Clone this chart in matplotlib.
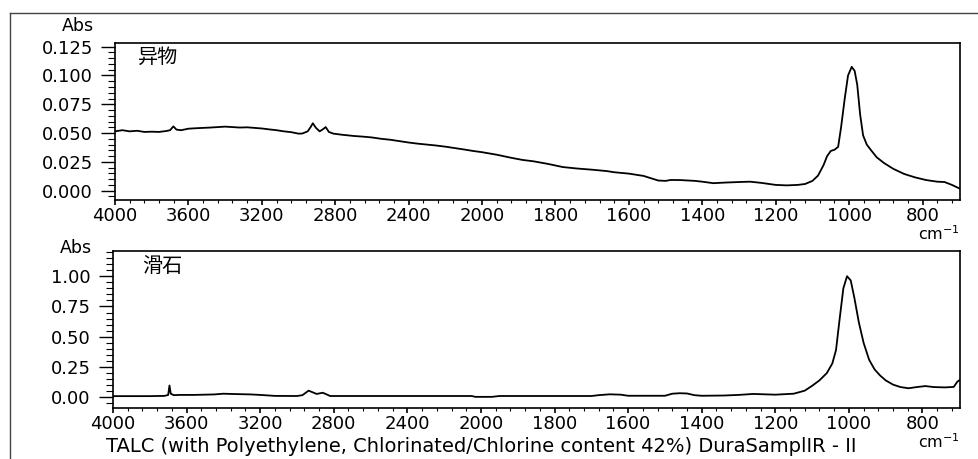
import numpy as np
import matplotlib
matplotlib.use('Agg')
import matplotlib.pyplot as plt
from matplotlib.lines import Line2D
from matplotlib.ticker import FixedLocator, StrMethodFormatter

plt.rcParams['font.family'] = ['DejaVu Sans', 'Noto Sans CJK SC']

# ============================================================
# DATA
# ============================================================

# top panel: 异物 (foreign matter)
wn_top = [4000, 3960, 3920, 3880, 3840, 3800, 3760, 3720, 3700, 3682,
          3665, 3640, 3600, 3560, 3520, 3480, 3440, 3400, 3360, 3320,
          3280, 3240, 3200, 3160, 3120, 3080, 3040, 3000, 2980, 2950,
          2935, 2922, 2905, 2885, 2870, 2852, 2835, 2810, 2760, 2700,
          2640, 2600, 2548, 2500, 2450, 2400, 2350, 2300, 2250, 2200,
          2150, 2100, 2050, 2000, 1960, 1920, 1890, 1860, 1820, 1780,
          1740, 1700, 1660, 1640, 1600, 1560, 1520, 1500, 1486, 1460,
          1420, 1400, 1370, 1340, 1300, 1270, 1240, 1200, 1170, 1140,
          1120, 1100, 1085, 1070, 1060, 1050, 1040, 1030, 1022, 1012,
          1003, 993, 985, 978, 970, 962, 952, 940, 925, 905,
          880, 850, 820, 790, 760, 740, 720, 700]
abs_top = [0.0515, 0.0525, 0.0515, 0.0520, 0.0510, 0.0512, 0.0510, 0.0518, 0.0525, 0.0558,
           0.0530, 0.0525, 0.0538, 0.0542, 0.0545, 0.0548, 0.0552, 0.0556, 0.0552, 0.0548,
           0.0550, 0.0545, 0.0540, 0.0532, 0.0525, 0.0515, 0.0508, 0.0495, 0.0496, 0.0515,
           0.0550, 0.0585, 0.0545, 0.0515, 0.0530, 0.0552, 0.0510, 0.0495, 0.0485, 0.0475,
           0.0468, 0.0462, 0.0450, 0.0442, 0.0430, 0.0418, 0.0408, 0.0400, 0.0392, 0.0382,
           0.0370, 0.0358, 0.0345, 0.0334, 0.0312, 0.0285, 0.0267, 0.0255, 0.0232, 0.0205,
           0.0192, 0.0182, 0.0170, 0.0160, 0.0148, 0.0128, 0.0088, 0.0085, 0.0093, 0.0092,
           0.0085, 0.0078, 0.0065, 0.0070, 0.0075, 0.0078, 0.0068, 0.0050, 0.0046, 0.0050,
           0.0058, 0.0085, 0.0130, 0.0220, 0.0300, 0.0345, 0.0355, 0.0380, 0.0550, 0.0800,
           0.1000, 0.1075, 0.1040, 0.0920, 0.0660, 0.0480, 0.0400, 0.0350, 0.0290, 0.0240,
           0.0190, 0.0145, 0.0115, 0.0092, 0.0078, 0.0075, 0.0050, 0.0020]

# bottom panel: 滑石 (talc reference)
wn_bot = [4000, 3800, 3720, 3700, 3693, 3686, 3670, 3640, 3560, 3450,
          3400, 3360, 3250, 3200, 3120, 3000, 2970, 2937, 2912, 2893,
          2860, 2840, 2820, 2600, 2050, 2030, 1970, 1950, 1700, 1680,
          1650, 1620, 1600, 1500, 1480, 1460, 1440, 1420, 1400, 1340,
          1300, 1260, 1200, 1150, 1120, 1100, 1080, 1060, 1045, 1035,
          1025, 1015, 1005, 995, 985, 973, 960, 945, 930, 915,
          900, 880, 860, 838, 815, 792, 770, 740, 715, 705, 700]
abs_bot = [0.010, 0.010, 0.012, 0.020, 0.098, 0.030, 0.018, 0.020, 0.020, 0.024,
           0.030, 0.028, 0.024, 0.020, 0.012, 0.011, 0.018, 0.055, 0.040, 0.028,
           0.038, 0.025, 0.011, 0.011, 0.011, 0.004, 0.004, 0.011, 0.011, 0.018,
           0.025, 0.022, 0.013, 0.013, 0.030, 0.034, 0.032, 0.018, 0.013, 0.015,
           0.020, 0.028, 0.022, 0.030, 0.055, 0.095, 0.140, 0.200, 0.280, 0.390,
           0.650, 0.900, 1.000, 0.965, 0.820, 0.620, 0.450, 0.310, 0.230, 0.180,
           0.140, 0.105, 0.085, 0.075, 0.085, 0.093, 0.085, 0.082, 0.086, 0.130, 0.140]

x_ticks      = [4000, 3600, 3200, 2800, 2400, 2000, 1800, 1600, 1400, 1200, 1000, 800]
y_ticks_top  = [0.000, 0.025, 0.050, 0.075, 0.100, 0.125]
y_ticks_bot  = [0.00, 0.25, 0.50, 0.75, 1.00]

label_top = '异物'
label_bot = '滑石'
footer    = 'TALC (with Polyethylene, Chlorinated/Chlorine content 42%) DuraSamplIR - II'

# ============================================================
# X SCALE  (FTIR style: half compression above 2000 cm-1)
# ============================================================

def fwd(x):
    x = np.asarray(x, dtype=float)
    return np.where(x > 2000, 2000 + (x - 2000) / 2, x)

def inv(y):
    y = np.asarray(y, dtype=float)
    return np.where(y > 2000, 2000 + (y - 2000) * 2, y)

x_minor = [v for v in np.arange(2080, 4000, 80)] + [v for v in np.arange(720, 2000, 40)]

W, H = 979, 459
fig = plt.figure(figsize=(W / 100, H / 100), dpi=100)

# outer frame (only top and left edges visible)
fig.add_artist(Line2D([10 / W, 1.0], [1 - 13 / H, 1 - 13 / H], color='#444444', lw=1.0))
fig.add_artist(Line2D([10 / W, 10 / W], [0.0, 1 - 13 / H], color='#444444', lw=1.0))

ax_top = fig.add_axes([115 / W, 1 - 200 / H, 845 / W, 157 / H])
ax_bot = fig.add_axes([113 / W, 1 - 408 / H, 847 / W, 157 / H])


def style_axis(ax, yticks, ymin, ymax, yminor, fmt):
    ax.set_xscale('function', functions=(fwd, inv))
    ax.set_xlim(4000, 698)
    ax.set_ylim(ymin, ymax)
    ax.xaxis.set_major_locator(FixedLocator(x_ticks))
    ax.xaxis.set_minor_locator(FixedLocator(x_minor))
    ax.xaxis.set_major_formatter(StrMethodFormatter('{x:.0f}'))
    ax.xaxis.set_minor_formatter(plt.NullFormatter())
    ax.yaxis.set_major_locator(FixedLocator(yticks))
    ax.yaxis.set_minor_locator(FixedLocator(yminor))
    ax.yaxis.set_major_formatter(StrMethodFormatter(fmt))
    ax.tick_params(axis='x', which='major', direction='out', length=3.5, width=1.2,
                   labelsize=13, pad=1.5)
    ax.tick_params(axis='x', which='minor', direction='out', length=2.5, width=0.8)
    ax.tick_params(axis='y', which='major', direction='out', length=10, width=1.0,
                   labelsize=13, pad=6)
    ax.tick_params(axis='y', which='minor', direction='out', length=5, width=0.8)
    for s in ax.spines.values():
        s.set_linewidth(1.2)
        s.set_color('black')


ax_top.plot(wn_top, abs_top, color='black', lw=1.3)
style_axis(ax_top, y_ticks_top, -0.0081, 0.1282,
           np.arange(-0.005, 0.1281, 0.005), '{x:.3f}')
ax_top.text(0.027, 0.91, label_top, transform=ax_top.transAxes, fontsize=14.5,
            family=['Noto Sans CJK SC'], va='center', ha='left')

ax_bot.plot(wn_bot, abs_bot, color='black', lw=1.3)
style_axis(ax_bot, y_ticks_bot, -0.088, 1.208,
           np.arange(-0.05, 1.21, 0.05), '{x:.2f}')
ax_bot.text(0.035, 0.90, label_bot, transform=ax_bot.transAxes, fontsize=14.5,
            family=['Noto Sans CJK SC'], va='center', ha='left')

# axis captions
fig.text(78 / W, 1 - 26 / H, 'Abs', fontsize=12.5, ha='center', va='center')
fig.text(76 / W, 1 - 248 / H, 'Abs', fontsize=12.5, ha='center', va='center')
fig.text(960 / W, 1 - 224 / H, 'cm$^{-1}$', fontsize=11.5, ha='right', va='top')
fig.text(960 / W, 1 - 432 / H, 'cm$^{-1}$', fontsize=11.5, ha='right', va='top')

fig.text(481 / W, 1 - 446 / H, footer, fontsize=14, ha='center', va='center')

fig.savefig('out.png', dpi=100)
